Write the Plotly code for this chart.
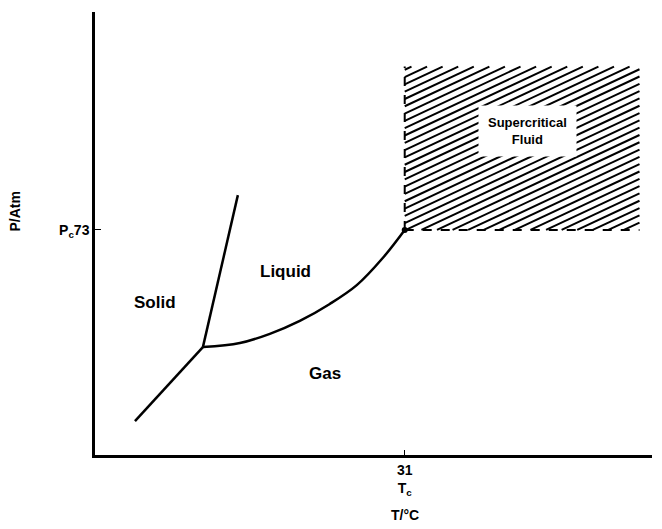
import numpy as np
import plotly.graph_objects as go

# ---- data (T in °C, P in atm) ----
T_c, P_c = 31, 73
sub_T = [-77, -49.8]
sub_P = [11.0, 35.0]
melt_T = [-49.8, -35.8]
melt_P = [35.0, 84.3]
vap_T = [-49.8, -35, -23, -11, 1, 11.8, 22.2, 31]
vap_P = [35.0, 36.3, 39.3, 43.5, 49.0, 55.1, 63.9, 73]
scf_T_max, scf_P_max = 125, 126
x_range = [-93, 130]
y_range = [0, 143.7]

region_labels = ["Solid", "Liquid", "Gas"]
region_T = [-69, -16.6, -1]
region_P = [49.6, 59.4, 26.6]

fig = go.Figure()
line = dict(color="black", width=2.5)

# hatch lines for supercritical region
m = 0.38
step = 2.37
x0, x1, y0, y1 = T_c, scf_T_max, P_c, scf_P_max
hx, hy = [], []
c = -m * (x1 - x0)
while c < (y1 - y0):
    xa = max(x0, x0 - c / m)
    xb = min(x1, x0 + (y1 - y0 - c) / m)
    if xa < xb:
        hx += [xa, xb, None]
        hy += [y0 + c + m * (xa - x0), y0 + c + m * (xb - x0), None]
    c += step
fig.add_trace(go.Scatter(x=hx, y=hy, mode="lines",
                         line=dict(color="black", width=2), hoverinfo="skip"))

fig.add_trace(go.Scatter(x=sub_T, y=sub_P, mode="lines", line=line))
fig.add_trace(go.Scatter(x=melt_T, y=melt_P, mode="lines", line=line))
fig.add_trace(go.Scatter(x=vap_T, y=vap_P, mode="lines",
                         line=dict(color="black", width=2.5, shape="spline", smoothing=1)))
# dashed boundaries
fig.add_trace(go.Scatter(x=[T_c, T_c], y=[P_c, scf_P_max], mode="lines",
                         line=dict(color="black", width=2, dash="dash")))
fig.add_trace(go.Scatter(x=[T_c, scf_T_max], y=[P_c, P_c], mode="lines",
                         line=dict(color="black", width=2, dash="dash")))
fig.add_trace(go.Scatter(x=[T_c], y=[P_c], mode="markers",
                         marker=dict(color="black", size=6)))

FAM = "Liberation Sans, Arial"
font = dict(family=FAM, size=17, color="black")
for lab, tx, py in zip(region_labels, region_T, region_P):
    fig.add_annotation(x=tx, y=py, text="<b>%s</b>" % lab, showarrow=False, font=font)

fig.add_annotation(x=(T_c + scf_T_max) / 2 + 2, y=105, text="<b>Supercritical<br>Fluid</b>",
                   showarrow=False, bgcolor="white", borderpad=9,
                   font=dict(family=FAM, size=13, color="black"))

fig.add_annotation(xref="paper", yref="paper", x=-0.162, y=0.549,
                   text="<b>P/Atm</b>", textangle=-90, showarrow=False,
                   font=dict(family=FAM, size=14, color="black"))
fig.add_annotation(xref="x", yref="paper", x=T_c, y=-0.135, yanchor="middle",
                   text="<b>T/°C</b>", showarrow=False,
                   font=dict(family=FAM, size=14, color="black"))

fig.update_xaxes(range=x_range, showline=True, linecolor="black", linewidth=2.5,
                 showgrid=False, zeroline=False, ticks="inside", ticklen=5,
                 tickcolor="black", tickvals=[T_c], ticktext=["<b>31<br>T<sub>c</sub></b>"],
                 tickfont=dict(family=FAM, size=14, color="black"), automargin=False)
fig.update_yaxes(range=y_range, showline=True, linecolor="black", linewidth=2.5,
                 showgrid=False, zeroline=False, ticks="inside", ticklen=6,
                 tickcolor="black", tickvals=[P_c], ticktext=["<b>P<sub>c</sub>73</b>"],
                 tickfont=dict(family=FAM, size=14, color="black"), automargin=False)

fig.update_layout(width=654, height=521, showlegend=False,
                  plot_bgcolor="white", paper_bgcolor="white",
                  margin=dict(l=87, r=10, t=4, b=74))
fig.write_html("out.html")
